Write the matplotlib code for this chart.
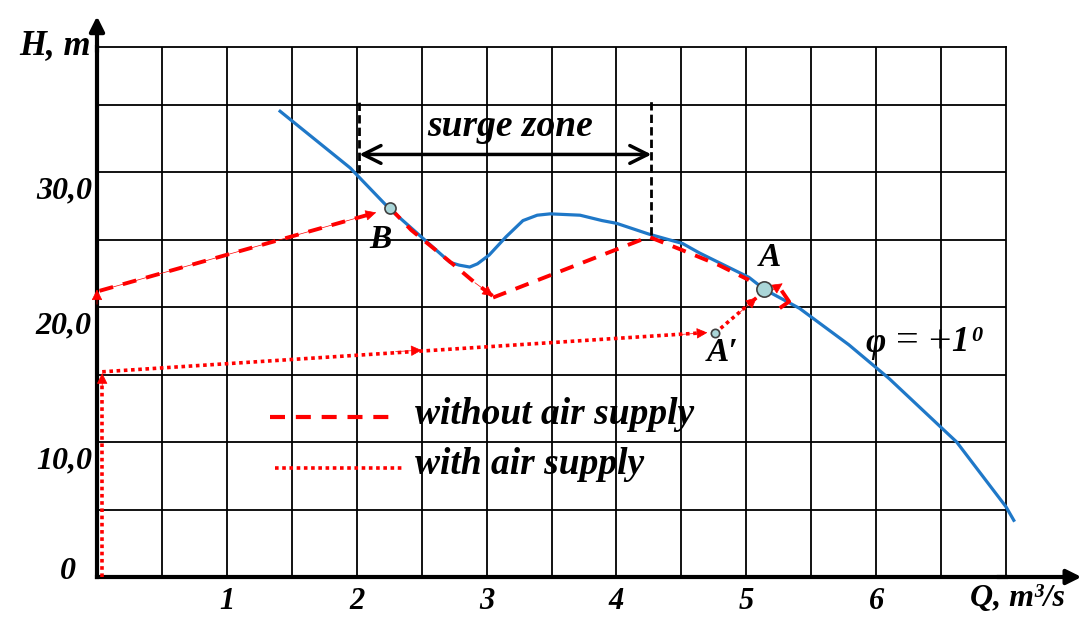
"""Pump head curve H(Q) with surge cycle, with and without air supply."""
import matplotlib
matplotlib.use("Agg")
import matplotlib.pyplot as plt
import numpy as np

# head characteristic, phi = +1 deg
Q_CURVE = [1.41, 1.95, 2.25, 2.72, 2.79, 2.87, 2.93, 3.02, 3.15, 3.28, 3.39, 3.49,
           3.72, 3.89, 4.00, 4.25, 4.51, 4.64, 5.02, 5.14, 5.41, 5.79, 6.10, 6.52,
           6.62, 7.00, 7.06]
H_CURVE = [34.5, 30.3, 27.3, 23.3, 23.1, 22.96, 23.2, 23.85, 25.2, 26.4, 26.8, 26.9,
           26.8, 26.4, 26.2, 25.4, 24.7, 24.0, 22.2, 21.3, 19.9, 17.2, 14.7, 10.9,
           10.0, 5.2, 4.2]

# surge cycle without air supply (dashed)
Q_JUMP = [0.02, 2.15]
H_JUMP = [21.2, 27.0]
Q_DROP = [2.26, 2.42, 2.75, 2.91, 3.05]
H_DROP = [27.3, 25.7, 23.1, 21.8, 20.8]
Q_RISE = [3.05, 4.25, 4.51, 4.79, 5.02]
H_RISE = [20.7, 25.2, 24.2, 23.1, 22.0]
Q_HOOK = [5.28, 5.33, 5.27]
H_HOOK = [21.1, 20.4, 20.0]

# with air supply (dotted)
Q_UP = [0.04, 0.04]
H_UP = [0.0, 14.9]
Q_AIR = [0.04, 4.68]
H_AIR = [15.2, 18.1]
Q_TO_A = [4.76, 5.08]
H_TO_A = [18.07, 20.7]

# operating points
PTS = {"B": (2.26, 27.3), "A": (5.14, 21.3), "A'": (4.76, 18.07)}

X_GRID = np.arange(0.5, 7.0, 0.5)
Y_GRID = [5, 10, 15, 20, 25, 30, 35]
Y_LABELS = ["0", "10,0", "20,0", "30,0"]
Y_LABEL_AT = [0, 10, 20, 30]
X_LABELS = ["1", "2", "3", "4", "5", "6"]
SURGE = (2.02, 4.27)

RED = "#ff0000"
BLUE = "#1f78c8"
PT_FILL = "#aad6d8"
FAM = ["Liberation Serif", "DejaVu Serif"]
FONT = dict(family=FAM, weight="bold", style="italic", color="black")
DASH = (0, (3.6, 2.6))


def head(ax, p0, p1, size=17):
    ax.annotate("", xy=p1, xytext=p0,
                arrowprops=dict(arrowstyle="-|>", color=RED, lw=0.5,
                                mutation_scale=size, shrinkA=0, shrinkB=0),
                annotation_clip=False)


fig = plt.figure(figsize=(10.85, 6.17), dpi=100)
ax = fig.add_axes([97 / 1085, 40 / 617, 909 / 1085, 530 / 617])
ax.set_xlim(0, 7.0)
ax.set_ylim(0, 530 / 13.5)
ax.set_xticks([])
ax.set_yticks([])
for x in X_GRID:
    ax.axvline(x, color="black", lw=1.3, zorder=1)
for y in Y_GRID:
    ax.axhline(y, color="black", lw=1.3, zorder=1)
for s in ("top", "right"):
    ax.spines[s].set_linewidth(1.3)
for s in ("left", "bottom"):
    ax.spines[s].set_linewidth(3)

# axis arrows
ax.annotate("", xy=(0, 1.058), xytext=(0, 0.99), xycoords="axes fraction",
            arrowprops=dict(arrowstyle="-|>", color="black", lw=3, mutation_scale=22,
                            shrinkA=0, shrinkB=0), annotation_clip=False)
ax.annotate("", xy=(1.083, 0), xytext=(0.99, 0), xycoords="axes fraction",
            arrowprops=dict(arrowstyle="-|>", color="black", lw=3, mutation_scale=22,
                            shrinkA=0, shrinkB=0), annotation_clip=False)

# head curve
ax.plot(Q_CURVE, H_CURVE, color=BLUE, lw=2.3, zorder=3, clip_on=False)

# without air supply
kw = dict(color=RED, lw=2.8, ls=DASH, zorder=4, clip_on=False)
ax.plot(Q_JUMP, H_JUMP, **kw)
ax.plot(Q_DROP, H_DROP, **kw)
ax.plot(Q_RISE, H_RISE, **kw)
ax.plot(Q_HOOK, H_HOOK, color=RED, lw=2.8, zorder=4)
head(ax, (0.0, 20.2), (0.0, 21.3))
head(ax, (Q_JUMP[0], H_JUMP[0]), (Q_JUMP[1], H_JUMP[1]))
head(ax, (Q_DROP[-2], H_DROP[-2]), (Q_DROP[-1], H_DROP[-1]))
head(ax, (5.18, 21.1), (5.28, 21.75))

# with air supply
kd = dict(color=RED, lw=2.6, ls=(0, (1, 1)), zorder=4, clip_on=False)
ax.plot(Q_UP, H_UP, **kd)
ax.plot(Q_AIR, H_AIR, **kd)
ax.plot(Q_TO_A, H_TO_A, **kd)
head(ax, (0.04, 14.0), (0.04, 15.1))
head(ax, (2.3, 16.7), (2.5, 16.8))
head(ax, (4.5, 17.97), (4.7, 18.1))
head(ax, (4.95, 19.6), (5.08, 20.7))

# operating points
for name, (q, h) in PTS.items():
    r = 11 if name == "A" else (8 if name == "B" else 6)
    ax.plot(q, h, "o", ms=r, mfc=PT_FILL, mec="#404040", mew=1.2, zorder=6)

# surge zone
for q, h0 in zip(SURGE, (29.9, 25.3)):
    ax.plot([q, q], [h0, 35.5], color="black", lw=2, ls=(0, (3, 1.5)), zorder=5)
ax.annotate("", xy=(SURGE[0], 31.3), xytext=(SURGE[1], 31.3),
            arrowprops=dict(arrowstyle="<->", color="black", lw=2.5, mutation_scale=32,
                            shrinkA=0, shrinkB=0))
ax.text(3.18, 33.4, "surge zone", fontsize=27, ha="center", va="center", **FONT)

# point labels
ax.text(2.18, 25.0, "B", fontsize=24, ha="center", va="center", **FONT)
ax.text(5.18, 23.7, "A", fontsize=24, ha="center", va="center", **FONT)
ax.text(4.82, 16.6, "A′", fontsize=24, ha="center", va="center", **FONT)
phi = ax.text(5.92, 17.3, "φ", fontsize=25, ha="left", va="center", **FONT)
fig.canvas.draw()
bb = phi.get_window_extent()
eq = ax.annotate("= +", xy=(bb.x1, bb.y0), xycoords="figure pixels", xytext=(10, -1),
                 textcoords="offset pixels", fontsize=29, family=FAM, ha="left", va="bottom")
fig.canvas.draw()
bb = eq.get_window_extent()
one = ax.annotate("1", xy=(bb.x1, bb.y0), xycoords="figure pixels", xytext=(-1, 2),
                  textcoords="offset pixels", fontsize=25, ha="left", va="bottom", **FONT)
fig.canvas.draw()
bb = one.get_window_extent()
ax.annotate("0", xy=(bb.x1, bb.y1), xycoords="figure pixels", xytext=(3, 0),
            textcoords="offset pixels", fontsize=16, ha="left", va="top", **FONT)

# legend
ax.plot([1.33, 2.32], [11.85, 11.85], color=RED, lw=3, ls=DASH)
ax.plot([1.37, 2.35], [8.07, 8.07], color=RED, lw=2.6, ls=(0, (1, 1)))
ax.text(2.45, 12.0, "without air supply", fontsize=27, ha="left", va="center", **FONT)
ax.text(2.45, 8.3, "with air supply", fontsize=27, ha="left", va="center", **FONT)

# axis labels
for lab, y in zip(Y_LABELS, Y_LABEL_AT):
    if y == 0:
        ax.text(-0.16, 0.4, lab, fontsize=23, ha="right", va="center", clip_on=False, **FONT)
    else:
        ax.text(-0.04, y - 1.4, lab, fontsize=23, ha="right", va="center", clip_on=False, **FONT)
for i, lab in enumerate(X_LABELS):
    ax.text(i + 1.0, -1.8, lab, fontsize=22, ha="center", va="center", **FONT)
ax.text(6.72, -1.6, "Q, m³/s", fontsize=23, ha="left", va="center", **FONT)
ax.text(-0.05, 39.4, "H, m", fontsize=25, ha="right", va="center", **FONT)

fig.savefig("out.png", dpi=100)
